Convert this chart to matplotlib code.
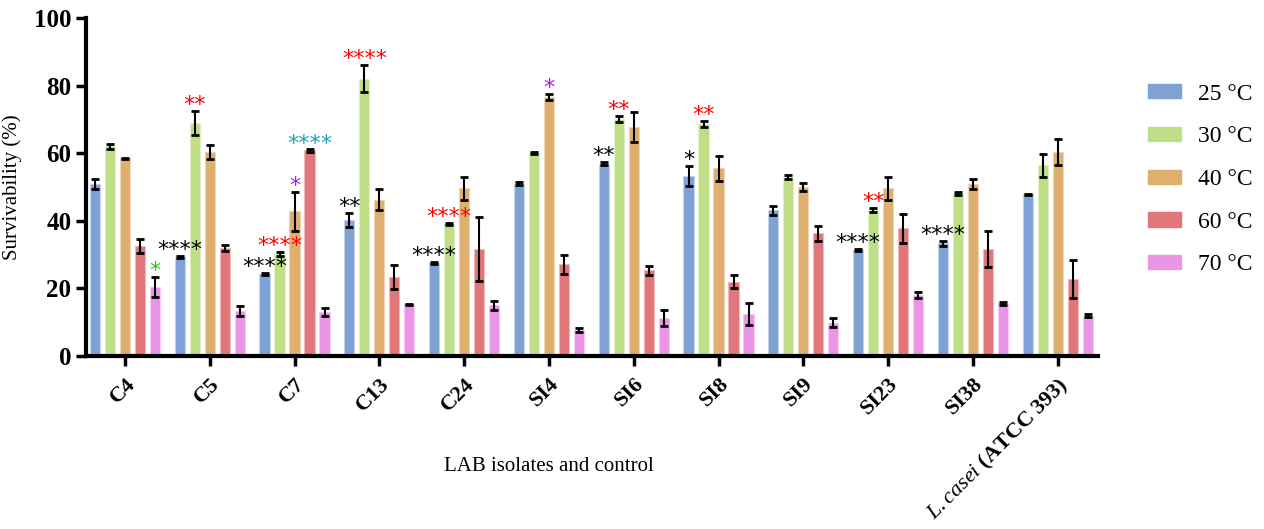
import matplotlib
matplotlib.use("Agg")
import matplotlib.pyplot as plt
import matplotlib.transforms as mtransforms
from matplotlib.patches import Patch
import numpy as np

plt.rcParams['font.family'] = ['Liberation Serif', 'DejaVu Serif']
plt.rcParams['mathtext.fontset'] = 'custom'
plt.rcParams['mathtext.rm'] = 'Liberation Serif'
plt.rcParams['mathtext.it'] = 'Liberation Serif:italic'
plt.rcParams['mathtext.bf'] = 'Liberation Serif:bold'

isolates = ["C4", "C5", "C7", "C13", "C24", "SI4", "SI6", "SI8", "SI9", "SI23", "SI38",
            r"$\it{L.casei}$ $\bf{(ATCC\ 393)}$"]
temps = ["25 °C", "30 °C", "40 °C", "60 °C", "70 °C"]
colors = ["#7fa2d5", "#bfdf87", "#deaf6f", "#e0757a", "#ea95e8"]
edges = ["#c3d3ec", "#e0f0c5", "#efd5b3", "#f0babc", "#f5caf3"]

# mean survivability (%) per temperature, one value per isolate
t25 = [51.0, 29.3, 24.3, 40.3, 27.4, 51.0, 56.9, 53.3, 43.1, 31.4, 33.3, 47.8]
t30 = [62.0, 69.0, 30.3, 82.0, 39.0, 60.0, 70.1, 68.6, 53.0, 43.2, 48.1, 56.5]
t40 = [58.5, 60.3, 42.8, 46.3, 49.6, 76.6, 67.8, 55.5, 50.0, 49.6, 50.8, 60.3]
t60 = [32.5, 32.0, 60.8, 23.3, 31.6, 27.1, 25.3, 22.0, 36.3, 37.8, 31.6, 22.7]
t70 = [20.5, 13.3, 13.0, 15.3, 15.0, 7.7, 11.2, 12.4, 9.9, 18.0, 15.6, 11.9]

# error (SD)
e25 = [1.5, 0.3, 0.2, 2.0, 0.3, 0.5, 0.5, 3.0, 1.3, 0.2, 0.7, 0.2]
e30 = [0.8, 3.5, 0.6, 4.0, 0.3, 0.3, 1.0, 0.8, 0.5, 0.5, 0.4, 3.4]
e40 = [0.2, 2.0, 5.7, 3.0, 3.4, 1.0, 4.5, 3.8, 1.3, 3.4, 1.5, 3.9]
e60 = [2.0, 0.8, 0.3, 3.5, 9.5, 2.8, 1.2, 2.0, 2.3, 4.3, 5.3, 5.6]
e70 = [3.0, 1.5, 1.2, 0.2, 1.3, 0.5, 2.3, 3.3, 1.2, 0.9, 0.5, 0.4]

means = [t25, t30, t40, t60, t70]
errs = [e25, e30, e40, e60, e70]

# significance marks: (isolate index, temperature index, text, colour)
marks = [(0, 4, "*", "#22cc22"),
         (1, 0, "****", "black"), (1, 1, "**", "red"),
         (2, 0, "****", "black"), (2, 1, "****", "red"), (2, 2, "*", "#a020f0"), (2, 3, "****", "#20a0c0"),
         (3, 0, "**", "black"), (3, 1, "****", "red"),
         (4, 0, "****", "black"), (4, 1, "****", "red"),
         (5, 2, "*", "#a020f0"),
         (6, 0, "**", "black"), (6, 1, "**", "red"),
         (7, 0, "*", "black"), (7, 1, "**", "red"),
         (9, 0, "****", "black"), (9, 1, "**", "red"),
         (10, 0, "****", "black")]

fig = plt.figure(figsize=(12.64, 5.29), dpi=100)
ax = fig.add_axes([0.068, 0.327, 0.801, 0.639])

x = np.arange(len(isolates))
step = 0.177
width = 0.12
for i in range(5):
    pos = x + (i - 2) * step
    ax.bar(pos, means[i], width, color=colors[i], edgecolor=edges[i], linewidth=0.8, zorder=2)
    ax.errorbar(pos, means[i], yerr=errs[i], fmt="none", ecolor="black",
                elinewidth=1.5, capsize=3, capthick=2, zorder=3)

for gi, ti, txt, col in marks:
    px = gi + (ti - 2) * step
    top = means[ti][gi] + errs[ti][gi]
    ax.text(px, top - 1.2, txt, ha="center", va="bottom", color=col,
            fontsize=16, family="DejaVu Sans", zorder=4)

ax.set_xlim(-0.46, 11.48)
ax.set_ylim(0, 100)
ax.set_yticks([0, 20, 40, 60, 80, 100])
for lab in ax.get_yticklabels():
    lab.set_fontweight("bold")
    lab.set_fontsize(18)

ax.set_xticks(x)
offset = mtransforms.ScaledTranslation(8 / 100, 0, fig.dpi_scale_trans)
ax.set_xticklabels(isolates, rotation=45, ha="right", rotation_mode="anchor",
                   fontsize=16, fontweight="bold")
for lab in ax.get_xticklabels():
    lab.set_transform(lab.get_transform() + offset)

ax.set_ylabel("Survivability (%)", fontsize=15)
ax.yaxis.set_label_coords(-0.063, 0.5)
ax.set_xlabel("LAB isolates and control", fontsize=15)
ax.xaxis.set_label_coords(0.457, -0.30)

for s in ["top", "right"]:
    ax.spines[s].set_visible(False)
for s in ["left", "bottom"]:
    ax.spines[s].set_linewidth(3)
ax.tick_params(axis="both", width=2.5, length=7, direction="out")
ax.tick_params(axis="x", pad=6)

handles = [Patch(facecolor=colors[i], edgecolor=colors[i]) for i in range(5)]
fig.legend(handles, temps, loc="upper left", bbox_to_anchor=(0.908, 0.842),
           frameon=False, fontsize=17, handlelength=1.4, handleheight=0.55,
           handletextpad=0.72, labelspacing=0.92, borderpad=0, borderaxespad=0)

fig.savefig("out.png", dpi=100)
